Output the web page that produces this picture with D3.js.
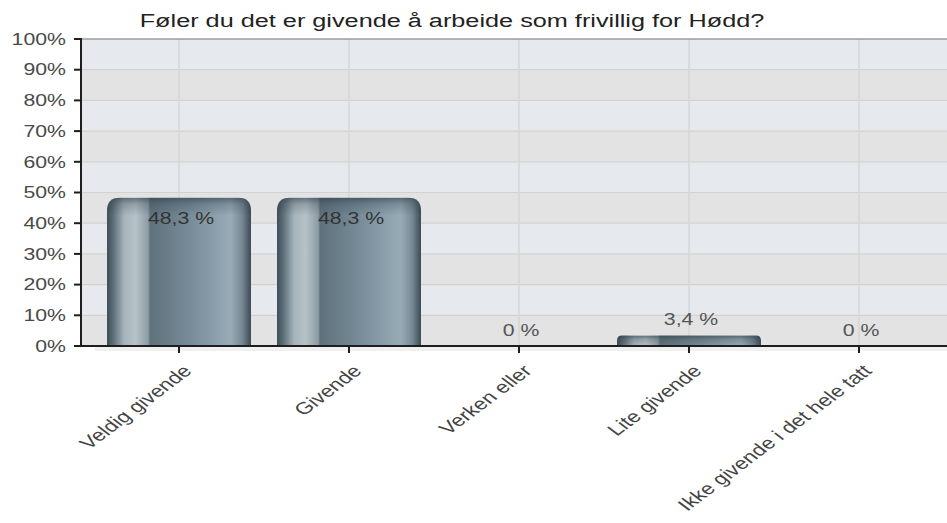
<!DOCTYPE html>
<html>
<head>
<meta charset="utf-8">
<script src="https://cdn.jsdelivr.net/npm/d3@7"></script>
<style>
  html, body { margin: 0; padding: 0; background: #fff; }
  svg { display: block; font-family: "Liberation Sans", Arial, sans-serif; }
</style>
</head>
<body>
<div id="canvas"></div>
<script>
const categories = ['Veldig givende', 'Givende', 'Verken eller', 'Lite givende', 'Ikke givende i det hele tatt'];
const values = [48.3, 48.3, 0, 3.4, 0];
const yTicks = [0, 10, 20, 30, 40, 50, 60, 70, 80, 90, 100];
const title = 'Føler du det er givende å arbeide som frivillig for Hødd?';

const width = 947;
const height = 523;
const sx = 1.33; // the picture is stretched sideways, so is the text

const plot = { left: 81, right: 950, top: 39, bottom: 346 };

const svg = d3.select('#canvas')
    .append('svg')
    .attr('width', width)
    .attr('height', height);

const x = d3.scaleBand()
    .domain(categories)
    .range([94, 944])
    .paddingInner(0.153)
    .paddingOuter(0.0765);

const y = d3.scaleLinear()
    .domain([0, 100])
    .range([plot.bottom, plot.top]);

const defs = svg.append('defs');

const grad = defs.append('linearGradient')
    .attr('id', 'barGrad')
    .attr('x1', '0%').attr('x2', '100%').attr('y1', '0%').attr('y2', '0%');
[
    [0, '#3e4e58'], [0.04, '#5a6c77'], [0.12, '#a7b4bb'], [0.2, '#b6c2c8'],
    [0.285, '#8d9da6'], [0.3, '#5e717d'], [0.6, '#7a8f9b'], [0.86, '#98acb8'],
    [0.94, '#758792'], [1, '#3b4b54']
].forEach(s => grad.append('stop').attr('offset', s[0]).attr('stop-color', s[1]));

const capGrad = defs.append('linearGradient')
    .attr('id', 'capGrad')
    .attr('x1', '0%').attr('x2', '0%').attr('y1', '0%').attr('y2', '100%');
capGrad.append('stop').attr('offset', 0).attr('stop-color', '#2a3a44').attr('stop-opacity', 0.6);
capGrad.append('stop').attr('offset', 0.35).attr('stop-color', '#2a3a44').attr('stop-opacity', 0.25);
capGrad.append('stop').attr('offset', 1).attr('stop-color', '#2a3a44').attr('stop-opacity', 0);

// plot background bands
svg.append('g')
    .selectAll('rect')
    .data(yTicks.slice(0, -1))
    .enter()
    .append('rect')
    .attr('x', plot.left)
    .attr('y', d => y(d + 10))
    .attr('width', plot.right - plot.left)
    .attr('height', d => y(d) - y(d + 10))
    .attr('fill', d => (d / 10) % 2 === 1 ? '#e6e9ed' : '#e3e3e3');

// grid lines
svg.append('g')
    .selectAll('line')
    .data(yTicks.slice(1, -1))
    .enter()
    .append('line')
    .attr('x1', plot.left).attr('x2', plot.right)
    .attr('y1', d => y(d)).attr('y2', d => y(d))
    .attr('stroke', '#d2d2d2')
    .attr('stroke-width', 1.2);

svg.append('g')
    .selectAll('line')
    .data(categories)
    .enter()
    .append('line')
    .attr('x1', d => x(d) + x.bandwidth() / 2)
    .attr('x2', d => x(d) + x.bandwidth() / 2)
    .attr('y1', plot.top).attr('y2', plot.bottom)
    .attr('stroke', '#d6d6d6')
    .attr('stroke-width', 1.5);

// top border
svg.append('line')
    .attr('x1', plot.left).attr('x2', plot.right)
    .attr('y1', plot.top).attr('y2', plot.top)
    .attr('stroke', '#9c9c9c')
    .attr('stroke-width', 1.5);

// soft shadow under the x axis
svg.append('rect')
    .attr('x', 95).attr('y', plot.bottom + 1)
    .attr('width', plot.right - 95).attr('height', 4)
    .attr('fill', '#f0f0f0');

function barPath(d) {
    const x0 = x(d.cat);
    const w = x.bandwidth();
    const top = y(d.value);
    const h = plot.bottom - top;
    const r = Math.min(13, h / 2);
    const p = d3.path();
    p.moveTo(x0, plot.bottom);
    p.lineTo(x0, top + r);
    p.quadraticCurveTo(x0, top, x0 + r, top);
    p.lineTo(x0 + w - r, top);
    p.quadraticCurveTo(x0 + w, top, x0 + w, top + r);
    p.lineTo(x0 + w, plot.bottom);
    p.closePath();
    return p.toString();
}

const barData = categories.map((c, i) => ({ cat: c, value: values[i], i: i }));
const shown = barData.filter(d => d.value > 0);

defs.selectAll('clipPath')
    .data(shown)
    .enter()
    .append('clipPath')
    .attr('id', d => 'clip' + d.i)
    .append('path')
    .attr('d', barPath);

const bars = svg.append('g');
bars.selectAll('path.bar')
    .data(shown)
    .enter()
    .append('path')
    .attr('class', 'bar')
    .attr('d', barPath)
    .attr('fill', 'url(#barGrad)');

// darker rounded cap at the top of each bar
bars.selectAll('rect.cap')
    .data(shown)
    .enter()
    .append('rect')
    .attr('class', 'cap')
    .attr('clip-path', d => `url(#clip${d.i})`)
    .attr('x', d => x(d.cat))
    .attr('y', d => y(d.value))
    .attr('width', x.bandwidth())
    .attr('height', d => Math.min(18, plot.bottom - y(d.value)))
    .attr('fill', 'url(#capGrad)');

// axes
svg.append('line')
    .attr('x1', plot.left).attr('x2', plot.left)
    .attr('y1', plot.top - 1).attr('y2', plot.bottom + 1)
    .attr('stroke', '#1e1e1e').attr('stroke-width', 2);

svg.append('line')
    .attr('x1', plot.left).attr('x2', plot.right)
    .attr('y1', plot.bottom).attr('y2', plot.bottom)
    .attr('stroke', '#1e1e1e').attr('stroke-width', 2);

svg.append('g')
    .selectAll('line')
    .data(yTicks)
    .enter()
    .append('line')
    .attr('x1', plot.left - 7).attr('x2', plot.left)
    .attr('y1', d => y(d)).attr('y2', d => y(d))
    .attr('stroke', '#1e1e1e').attr('stroke-width', 2);

svg.append('g')
    .selectAll('line')
    .data(categories)
    .enter()
    .append('line')
    .attr('x1', d => x(d) + x.bandwidth() / 2)
    .attr('x2', d => x(d) + x.bandwidth() / 2)
    .attr('y1', plot.bottom).attr('y2', plot.bottom + 7)
    .attr('stroke', '#1e1e1e').attr('stroke-width', 2);

// y tick labels
svg.append('g')
    .selectAll('text')
    .data(yTicks)
    .enter()
    .append('text')
    .attr('transform', d => `translate(66,${y(d)}) scale(${sx},1)`)
    .attr('text-anchor', 'end')
    .attr('dy', '0.36em')
    .attr('font-size', 16)
    .attr('fill', '#4a4a4a')
    .text(d => d + '%');

// x tick labels
svg.append('g')
    .selectAll('text')
    .data(categories)
    .enter()
    .append('text')
    .attr('transform', d => `translate(${x(d) + x.bandwidth() / 2 + 14},${plot.bottom + 26}) scale(${sx},1) rotate(-45)`)
    .attr('text-anchor', 'end')
    .attr('font-size', 17)
    .attr('fill', '#444')
    .text(d => d);

// value labels
svg.append('g')
    .selectAll('text')
    .data(barData)
    .enter()
    .append('text')
    .attr('transform', d => {
        const cx = x(d.cat) + x.bandwidth() / 2 + 2;
        const cy = d.value > 10 ? y(d.value) + 21 : y(d.value) - 16;
        return `translate(${cx},${cy}) scale(${sx},1)`;
    })
    .attr('text-anchor', 'middle')
    .attr('dy', '0.36em')
    .attr('font-size', 16)
    .attr('fill', d => d.value > 10 ? '#333' : '#555')
    .text(d => String(d.value).replace('.', ',') + ' %');

// title
svg.append('text')
    .attr('transform', `translate(452,27) scale(${sx},1)`)
    .attr('text-anchor', 'middle')
    .attr('font-size', 19)
    .attr('fill', '#222')
    .text(title);
</script>
</body>
</html>
